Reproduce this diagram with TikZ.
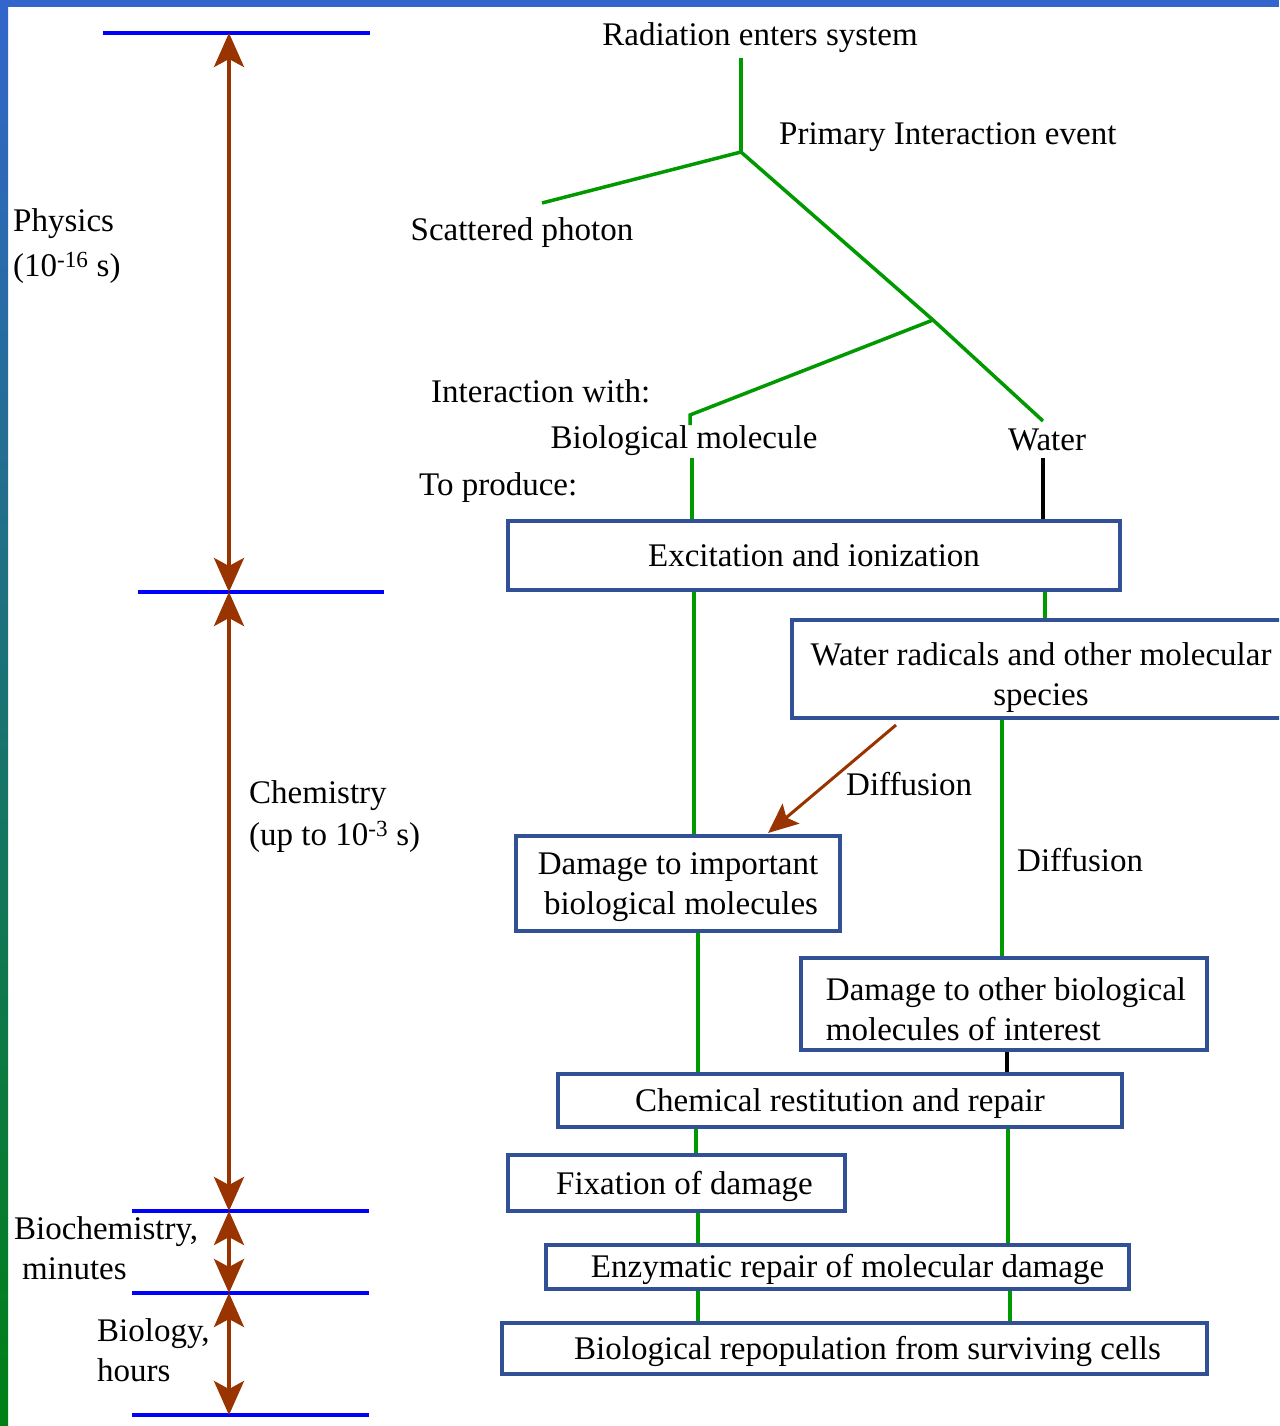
\documentclass[tikz,border=0pt]{standalone}
\usepackage{fontspec}
\setmainfont{Liberation Serif}
\usetikzlibrary{arrows.meta}
\definecolor{bandblue}{RGB}{51,102,204}
\definecolor{bandgreen}{RGB}{0,128,20}
\definecolor{lgreen}{RGB}{0,153,0}
\definecolor{boxblue}{RGB}{50,80,150}
\definecolor{brownarrow}{RGB}{153,51,0}
\definecolor{pureblue}{RGB}{0,0,255}
\newcommand{\lowertext}[2]{\raisebox{-#1}[\height][\depth]{#2}}
\begin{document}
\begin{tikzpicture}[x=1pt,y=-1pt,
  font=\fontsize{33}{40}\selectfont,
  box/.style={draw=boxblue, line width=4pt, rectangle, inner sep=0pt, align=center},
  gline/.style={draw=lgreen, line width=3.5pt},
  kline/.style={draw=black, line width=3.5pt},
  tline/.style={draw=pureblue, line width=4pt},
  timearrow/.style={draw=brownarrow, line width=4pt,
    {Stealth[length=34pt,width=30pt,inset=8pt]}-{Stealth[length=34pt,width=30pt,inset=8pt]}},
  diffarrow/.style={draw=brownarrow, line width=3pt,
    -{Stealth[length=30pt,width=26pt,inset=6pt]}},
  lbl/.style={inner sep=0pt, align=left}]
\useasboundingbox (0,0) rectangle (1279,1426);
\clip (0,0) rectangle (1279,1426);
\fill[white] (0,0) rectangle (1279,1426);
% frame
\shade[top color=bandblue, bottom color=bandgreen] (0,0) rectangle (8,1426);
\fill[bandblue] (0,0) rectangle (1279,7);

% time scale
\coordinate (t0) at (229,33);
\coordinate (t1) at (229,592);
\coordinate (t2) at (229,1211);
\coordinate (t3) at (229,1293);
\coordinate (t4) at (229,1415);
\draw[tline] (103,33) -- (370,33);
\draw[tline] (138,592) -- (384,592);
\draw[tline] (132,1211) -- (369,1211);
\draw[tline] (132,1293) -- (369,1293);
\draw[tline] (132,1415) -- (369,1415);
\draw[timearrow] (t0) -- (t1);
\draw[timearrow] (t1) -- (t2);
\draw[timearrow] (t2) -- (t3);
\draw[timearrow] (t3) -- (t4);

\node[lbl, anchor=west] (phys) at (13,246) {Physics\\[5pt](10\textsuperscript{-16} s)};
\node[lbl, anchor=west] (chem) at (249,817) {Chemistry\\[2pt](up to 10\textsuperscript{-3} s)};
\node[lbl, anchor=west] (biochem) at (14,1248) {Biochemistry,\\\hspace*{8pt}minutes};
\node[lbl, anchor=west] (biol) at (97,1350) {Biology,\\hours};

% top tree
\node[lbl, anchor=base] (rad) at (760,46) {Radiation enters system};
\node[lbl, anchor=base west] (prim) at (779,144) {Primary Interaction event};
\node[lbl, anchor=base] (scat) at (522,240) {Scattered photon};
\node[lbl, anchor=base west] (intw) at (431,402) {Interaction with:};
\node[lbl, anchor=base] (biom) at (684,448) {Biological molecule};
\node[lbl, anchor=base] (water) at (1047,450) {Water};
\node[lbl, anchor=base west] (toprod) at (419,495) {To produce:};

\coordinate (p0) at (741,58);
\coordinate (j1) at (741,152);
\coordinate (ph) at (542,203);
\coordinate (j2) at (933,320);
\coordinate (wt) at (1043,421);
\coordinate (bt) at (690,415);
\coordinate (bt2) at (690,425);
\draw[gline] (p0) -- (j1);
\draw[gline] (j1) -- (ph);
\draw[gline] (j1) -- (j2) -- (wt);
\draw[gline] (j2) -- (bt) -- (bt2);

% boxes
\node[box, minimum width=612, minimum height=69] (exc) at (814,555.5) {Excitation and ionization};
\node[box, minimum width=498, minimum height=98] (wr) at (1041,669) {\lowertext{8pt}{\begin{tabular}{@{}c@{}}Water radicals and other molecular\\species\end{tabular}}};
\node[box, minimum width=324, minimum height=95] (dim) at (678,883.5) {\lowertext{3pt}{\begin{tabular}{@{}c@{}}Damage to important\\\hspace*{6pt}biological molecules\end{tabular}}};
\node[box, minimum width=406, minimum height=92] (dob) at (1004,1004) {\lowertext{8pt}{\begin{tabular}{@{}l@{}}Damage to other biological\\molecules of interest\end{tabular}}\hspace*{-4pt}};
\node[box, minimum width=564, minimum height=53] (crr) at (840,1100.5) {\lowertext{3pt}{Chemical restitution and repair}};
\node[box, minimum width=337, minimum height=56] (fix) at (676.5,1183) {\hspace*{16pt}\lowertext{3pt}{Fixation of damage}};
\node[box, minimum width=583, minimum height=44] (enz) at (837.5,1267) {\hspace*{20pt}\lowertext{2pt}{Enzymatic repair of molecular damage}};
\node[box, minimum width=705, minimum height=51] (rep) at (854.5,1348.5) {\hspace*{26pt}\lowertext{3pt}{Biological repopulation from surviving cells}};

\node[lbl, anchor=base west] (diff1) at (846,795) {Diffusion};
\node[lbl, anchor=base west] (diff2) at (1017,871) {Diffusion};

% connectors
\coordinate (bm) at (692,458);
\coordinate (wm) at (1043,458);
\draw[gline] (bm) -- (bm |- exc.north);
\draw[kline] (wm) -- (wm |- exc.north);
\draw[gline] ([xshift=231pt]exc.south) -- ([xshift=4pt]wr.north);
\draw[gline] ([xshift=-120pt]exc.south) -- ([xshift=16pt]dim.north);
\coordinate (d1) at (896,725);
\coordinate (d2) at (768,833);
\draw[diffarrow] (d1) -- (d2);
\draw[gline] ([xshift=-39pt]wr.south) -- ([xshift=-2pt]dob.north);
\draw[kline] ([xshift=3pt]dob.south) -- ([xshift=167pt]crr.north);
\draw[gline] ([xshift=20pt]dim.south) -- ([xshift=-142pt]crr.north);
\draw[gline] ([xshift=-144pt]crr.south) -- ([xshift=19.5pt]fix.north);
\draw[gline] ([xshift=168pt]crr.south) -- ([xshift=170.5pt]enz.north);
\draw[gline] ([xshift=21.5pt]fix.south) -- ([xshift=-139.5pt]enz.north);
\draw[gline] ([xshift=-139.5pt]enz.south) -- ([xshift=-156.5pt]rep.north);
\draw[gline] ([xshift=172.5pt]enz.south) -- ([xshift=155.5pt]rep.north);
\end{tikzpicture}
\end{document}
